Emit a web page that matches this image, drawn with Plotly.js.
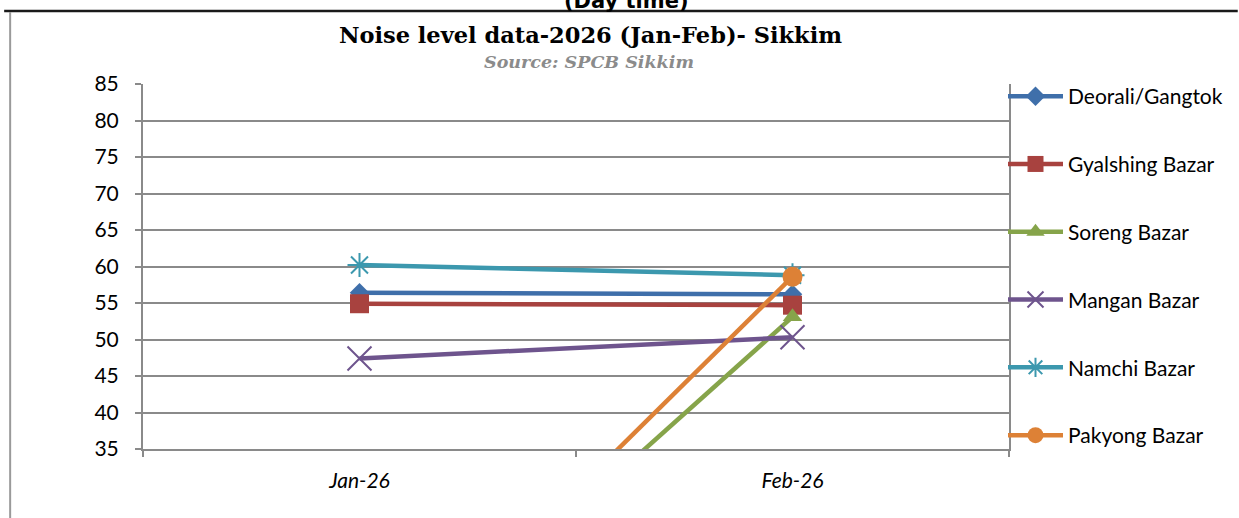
<!DOCTYPE html>
<html><head><meta charset="utf-8">
<script src="https://cdn.plot.ly/plotly-3.0.1.min.js"></script>
<style>html,body{margin:0;padding:0;background:#fff}#chart{width:1239px;height:518px}</style>
</head><body><div id="chart"></div>
<script>
// ---- data ----
const months = ['Jan-26', 'Feb-26'];
const deorali = [56.4, 56.2];
const gyalshing = [54.9, 54.7];
const soreng = [0, 53.1];
const mangan = [47.4, 50.3];
const namchi = [60.2, 58.8];
const pakyong = [0, 58.6];
const seriesNames = ['Deorali/Gangtok', 'Gyalshing Bazar', 'Soreng Bazar', 'Mangan Bazar', 'Namchi Bazar', 'Pakyong Bazar'];
const yTickValues = [35, 40, 45, 50, 55, 60, 65, 70, 75, 80, 85];
const chartTitle = 'Noise level data-2026 (Jan-Feb)- Sikkim';
const subTitle = 'Source: SPCB Sikkim';
const topHeading = '(Day time)';

// ---- styles ----
const colors = ['#3F6FAA', '#A8423F', '#86A44A', '#6E548D', '#3C98AE', '#DD8136'];
const symbols = ['diamond', 'square', 'triangle-up', 'x-thin-open', 'asterisk-open', 'circle'];
const sizes = [15, 19, 17, 24, 20, 20];
const values = [deorali, gyalshing, soreng, mangan, namchi, pakyong];

const traces = values.map((v, i) => ({
  type: 'scatter',
  mode: 'lines+markers',
  x: months,
  y: v,
  name: seriesNames[i],
  legendgroup: 'g' + i,
  line: {color: colors[i], width: 4.5},
  marker: {
    symbol: symbols[i], size: sizes[i], color: colors[i],
    line: {color: colors[i], width: (symbols[i].indexOf('open') >= 0 ? 2 : 0)}
  }
}));

const W = 1239, H = 518;
const L = 143, R = 229, T = 84, B = 69;
const pw = W - L - R, ph = H - T - B;
const px2x = p => (p - L) / pw;
const py2y = p => (H - B - p) / ph;

const layout = {
  width: W, height: H,
  margin: {l: L, r: R, t: T, b: B, pad: 0},
  paper_bgcolor: '#ffffff', plot_bgcolor: '#ffffff',
  showlegend: true,
  title: {
    text: '<b>' + chartTitle + '</b>',
    font: {family: 'DejaVu Serif', size: 22.5, color: '#000000'},
    xref: 'paper', x: px2x(591), xanchor: 'center',
    yref: 'container', y: 1 - 35 / H, yanchor: 'middle'
  },
  xaxis: {
    type: 'category',
    range: [-0.5, 1.5],
    showgrid: false, zeroline: false,
    showline: true, linecolor: '#8a8a8a', linewidth: 2,
    ticks: 'outside', tickson: 'boundaries', ticklen: 6, tickcolor: '#8a8a8a', tickwidth: 2,
    ticklabelstandoff: 12,
    tickfont: {family: 'Lato', size: 21, color: '#000000', style: 'italic'}
  },
  yaxis: {
    range: [35, 85],
    tickvals: yTickValues,
    showgrid: true, gridcolor: '#8a8a8a', gridwidth: 2,
    zeroline: false,
    showline: true, linecolor: '#8a8a8a', linewidth: 2, mirror: true,
    ticks: 'outside', ticklen: 6, tickcolor: '#8a8a8a', tickwidth: 2,
    ticklabelstandoff: 12,
    tickfont: {family: 'Lato', size: 21, color: '#000000'}
  },
  legend: {
    x: px2x(1003), xanchor: 'left',
    y: py2y(76), yanchor: 'top',
    itemwidth: 55,
    tracegroupgap: 37.5,
    maxheight: 500,
    font: {family: 'Lato', size: 21, color: '#000000'},
    bgcolor: 'rgba(0,0,0,0)', borderwidth: 0
  },
  annotations: [
    {
      text: '<b>' + subTitle + '</b>', showarrow: false,
      xref: 'paper', yref: 'paper', x: px2x(590), y: py2y(62),
      xanchor: 'center', yanchor: 'middle',
      font: {family: 'DejaVu Serif', size: 17.5, color: '#8b8b8b', style: 'italic'}
    },
    {
      text: '<b>' + topHeading + '</b>', showarrow: false,
      xref: 'paper', yref: 'paper', x: px2x(627), y: py2y(1),
      xanchor: 'center', yanchor: 'middle',
      font: {family: 'DejaVu Sans', size: 21, color: '#000000'}
    }
  ],
  shapes: [
    {type: 'line', xref: 'paper', yref: 'paper', x0: px2x(4), x1: px2x(1239), y0: py2y(11), y1: py2y(11),
     line: {color: '#1a1a1a', width: 2.5}},
    {type: 'line', xref: 'paper', yref: 'paper', x0: px2x(10), x1: px2x(10), y0: py2y(12), y1: py2y(518),
     line: {color: '#9a9a9a', width: 2}}
  ]
};

Plotly.newPlot('chart', traces, layout, {displayModeBar: false, staticPlot: true});
</script>
</body></html>
